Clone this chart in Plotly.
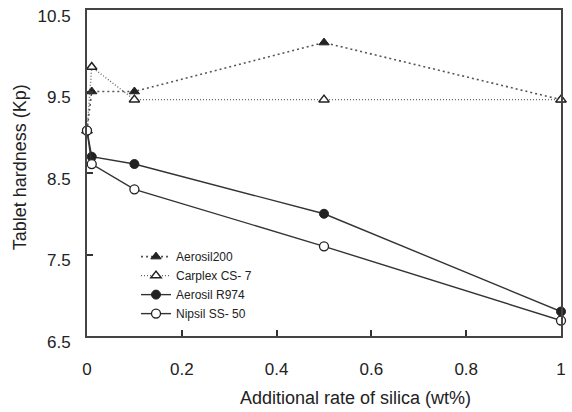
import plotly.graph_objects as go

x_vals = [0, 0.01, 0.1, 0.5, 1]
aerosil200 = [9.02, 9.5, 9.5, 10.1, 9.4]
carplex = [9.02, 9.8, 9.4, 9.4, 9.4]
aerosil_r974 = [9.02, 8.7, 8.61, 8.0, 6.8]
nipsil = [9.02, 8.61, 8.3, 7.6, 6.69]

y_ticks = [6.5, 7.5, 8.5, 9.5, 10.5]
x_ticks = [0, 0.2, 0.4, 0.6, 0.8, 1]
x_ticktext = ["0", "0.2", "0.4", "0.6", "0.8", "1"]

fig = go.Figure()
fig.add_trace(go.Scatter(x=x_vals, y=aerosil200, name="Aerosil200", mode="lines+markers",
                         line=dict(color="#555555", width=1.6, dash="2px,3px"),
                         marker=dict(symbol="triangle-up", size=9, color="#222222",
                                     line=dict(color="#222222", width=1))))
fig.add_trace(go.Scatter(x=x_vals, y=carplex, name="Carplex CS- 7", mode="lines+markers",
                         line=dict(color="#666666", width=1.4, dash="1px,2px"),
                         marker=dict(symbol="triangle-up", size=9, color="white",
                                     line=dict(color="#222222", width=1.5))))
fig.add_trace(go.Scatter(x=x_vals, y=aerosil_r974, name="Aerosil R974", mode="lines+markers",
                         line=dict(color="#333333", width=1.4),
                         marker=dict(symbol="circle", size=9, color="#222222",
                                     line=dict(color="#222222", width=1))))
fig.add_trace(go.Scatter(x=x_vals, y=nipsil, name="Nipsil SS- 50", mode="lines+markers",
                         line=dict(color="#333333", width=1.4),
                         marker=dict(symbol="circle", size=9, color="white",
                                     line=dict(color="#222222", width=1.3))))
fig.update_traces(cliponaxis=False)

fig.update_layout(
    width=572, height=412,
    margin=dict(l=87, r=11, t=10, b=76, autoexpand=False),
    paper_bgcolor="white", plot_bgcolor="white",
    font=dict(family="Liberation Sans, Arial, sans-serif", color="#222222"),
    legend=dict(x=0.1034, y=0.288, xanchor="left", yanchor="top",
                bgcolor="rgba(0,0,0,0)", font=dict(size=12), tracegroupgap=0),
    xaxis=dict(range=[0, 1], tickvals=x_ticks, ticktext=x_ticktext,
               ticks="inside", ticklen=6, tickwidth=1.5, tickcolor="#333333",
               showline=True, linecolor="#444444", linewidth=2, mirror=True,
               showgrid=False, zeroline=False, tickfont=dict(size=17),
               ticklabelstandoff=17, automargin=False, ticklabeloverflow="allow"),
    yaxis=dict(range=[6.5, 10.5], tickvals=y_ticks, ticktext=[str(v) for v in y_ticks],
               ticks="inside", ticklen=6, tickwidth=1.5, tickcolor="#333333",
               showline=True, linecolor="#444444", linewidth=2, mirror=True,
               showgrid=False, zeroline=False, tickfont=dict(size=17),
               ticklabelstandoff=11, ticklabelshift=6, automargin=False,
               ticklabeloverflow="allow"),
    annotations=[
        dict(text="Additional rate of silica (wt%)", xref="paper", yref="paper",
             x=0.567, y=-0.19, xanchor="center", yanchor="middle", showarrow=False,
             font=dict(size=18)),
        dict(text="Tablet hardness (Kp)", xref="paper", yref="paper", textangle=-90,
             x=-0.141, y=0.518, xanchor="center", yanchor="middle", showarrow=False,
             font=dict(size=18)),
    ],
)

fig.write_html("out.html", config={"displayModeBar": False},
               post_script="document.body.style.margin='0';")
